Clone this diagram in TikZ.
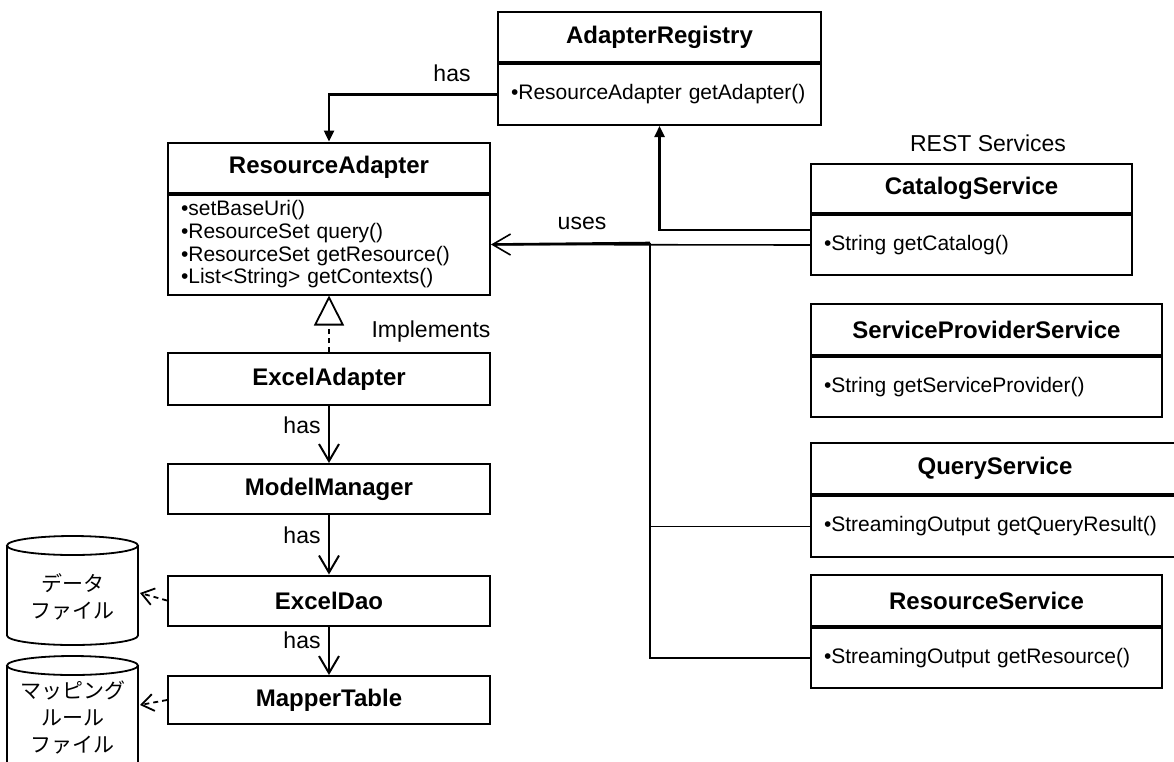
\documentclass[tikz,border=0pt]{standalone}
\usepackage{fontspec}
\setmainfont{Liberation Sans}
\newfontfamily\jpfont{Noto Sans CJK JP}
\usetikzlibrary{positioning,arrows.meta}
\tikzset{
  cls/.style={draw,line width=2pt,minimum height=50pt,inner sep=0pt,font=\bfseries\fontsize{24}{27}\selectfont},
  ops/.style={draw,line width=2pt,align=left,inner xsep=13pt,inner ysep=0pt,font=\fontsize{21}{22.7}\selectfont},
  lbl/.style={font=\fontsize{23}{26}\selectfont},
  jplbl/.style={font=\jpfont\fontsize{21}{27.3}\selectfont,align=center},
  hasarrow/.style={line width=2pt,-{Straight Barb[length=17pt,width=20pt]}},
  regarrow/.style={line width=2.4pt,-{Triangle[length=11pt,width=10pt]}},
  usesarrow/.style={line width=1.6pt,-{Straight Barb[length=18pt,width=21pt]}},
  implarrow/.style={line width=1.8pt,dash pattern=on 5pt off 4pt,-{Triangle[open,length=30pt,width=30pt]}},
  deparrow/.style={line width=1.8pt,dash pattern=on 5pt off 4pt,-{Straight Barb[length=12pt,width=17pt]}},
}
\begin{document}
\begin{tikzpicture}[x=1pt,y=-1pt]
  \useasboundingbox (0,0) rectangle (1174,761);

  % registry and adapter interface
  \node[cls,minimum width=323pt] (reg) at (659.5,37) {AdapterRegistry};
  \node[ops,below=0pt of reg,text width=297pt,minimum height=61pt] (regops) {•ResourceAdapter getAdapter()};

  \node[cls,minimum width=322pt] (ra) at (329,167.5) {ResourceAdapter};
  \node[ops,below=0pt of ra,text width=296pt,minimum height=100pt] (raops)
    {•setBaseUri()\\•ResourceSet query()\\•ResourceSet getResource()\\•List<String> getContexts()};

  % excel implementation
  \node[cls,minimum width=322pt,minimum height=52pt] (ea) at (329,379) {ExcelAdapter};
  \node[cls,minimum width=322pt] (mm) at (329,489) {ModelManager};
  \node[cls,minimum width=322pt] (dao) at (329,600.5) {ExcelDao};
  \node[cls,minimum width=322pt,minimum height=48pt] (mt) at (329,700) {MapperTable};

  % files
  \draw[line width=1.8pt] (7,545.5) -- (7,635.5) arc[start angle=180,end angle=360,x radius=65.5pt,y radius=9.5pt] -- (138,545.5);
  \draw[line width=1.8pt] (72.5,545.5) ellipse[x radius=65.5pt,y radius=9.5pt];
  \node[jplbl] (data) at (72.5,597) {データ\\ファイル};
  \coordinate (dataport) at (140,593);

  \draw[line width=1.8pt] (7,665.5) -- (7,790) arc[start angle=180,end angle=360,x radius=65.5pt,y radius=9.5pt] -- (138,665.5);
  \draw[line width=1.8pt] (72.5,665.5) ellipse[x radius=65.5pt,y radius=9.5pt];
  \node[jplbl] (map) at (72.5,717.5) {マッピング\\ルール\\ファイル};
  \coordinate (mapport) at (140,705);

  % services
  \node[lbl] (rest) at (988,143) {REST Services};
  \node[cls,minimum width=321pt,minimum height=49pt] (cat) at (971.5,188.5) {CatalogService};
  \node[ops,below=0pt of cat,text width=295pt,minimum height=60pt] (catops) {•String getCatalog()};
  \node[cls,minimum width=351pt,minimum height=51pt] (sps) at (986.5,329.5) {ServiceProviderService};
  \node[ops,below=0pt of sps,text width=325pt,minimum height=60pt] (spsops) {•String getServiceProvider()};
  \node[cls,minimum width=368pt,minimum height=51pt] (qs) at (995,468.5) {QueryService};
  \node[ops,below=0pt of qs,text width=342pt,minimum height=61pt] (qsops) {•StreamingOutput getQueryResult()};
  \node[cls,minimum width=351pt,minimum height=51pt] (rs) at (986.5,600.5) {ResourceService};
  \node[ops,below=0pt of rs,text width=325pt,minimum height=60pt] (rsops) {•StreamingOutput getResource()};

  % connectors
  \draw[regarrow] (regops.west) -| (ra.north);
  \node[lbl] (has0) at (452,73) {has};
  \draw[regarrow] ([yshift=15pt]catops.west) -| (regops.south);

  \coordinate (bus) at (650,243);
  \draw[usesarrow] (catops.west) -- (raops.east);
  \draw[line width=2.6pt,shorten >=2pt] (bus) -- (raops.east);
  \draw[line width=2.6pt] (bus) |- (rsops.west);
  \draw[line width=1.8pt] (bus |- qsops.west) -- (qsops.west);
  \node[lbl] (uses) at (582,223) {uses};

  \draw[implarrow] (ea.north) -- (raops.south);
  \node[lbl,anchor=west] (impl) at (368,332) {Implements};

  \draw[hasarrow] (ea.south) -- (mm.north);
  \node[lbl] (has1) at (302,425) {has};
  \draw[hasarrow] (mm.south) -- (dao.north);
  \node[lbl] (has2) at (302,535) {has};
  \draw[hasarrow] (dao.south) -- (mt.north);
  \node[lbl] (has3) at (302,640) {has};

  \draw[deparrow] (dao.west) -- (dataport);
  \draw[deparrow] (mt.west) -- (mapport);
\end{tikzpicture}
\end{document}
